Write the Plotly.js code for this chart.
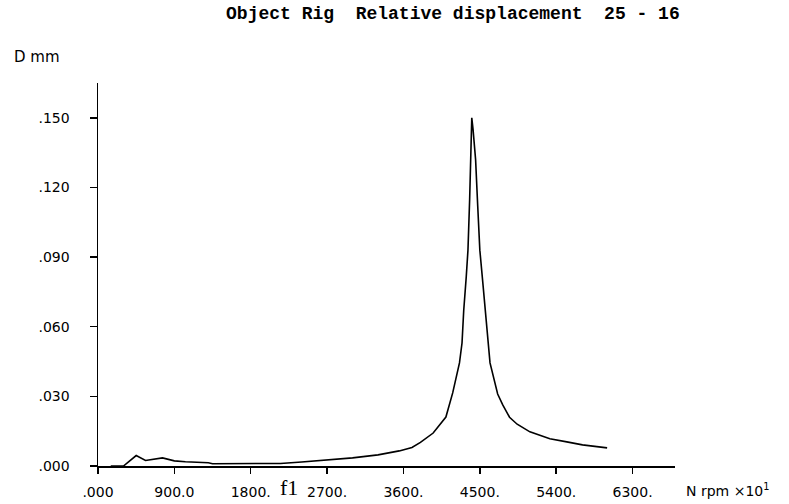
<!DOCTYPE html>
<html>
<head>
<meta charset="utf-8">
<script src="https://cdn.plot.ly/plotly-3.0.1.min.js"></script>
<style>html,body{margin:0;padding:0;background:#fff;}#chart{width:789px;height:504px;}</style>
</head>
<body>
<div id="chart"></div>
<script>
// Speed N (rpm x10)
const speed = [150, 300, 450, 560, 760, 900, 1030, 1300, 1350, 1800, 2150, 2400, 2700, 3000, 3300, 3550, 3700, 3800, 3950, 4100, 4180, 4260, 4290, 4310, 4340, 4360, 4380, 4395, 4405, 4420, 4450, 4475, 4500, 4535, 4580, 4620, 4710, 4770, 4850, 4940, 5090, 5325, 5525, 5710, 6000];
// Relative displacement D (mm)
const displacement = [0.0000, 0.0000, 0.0045, 0.0024, 0.0035, 0.0022, 0.0018, 0.0014, 0.0010, 0.0010, 0.0011, 0.0017, 0.0025, 0.0035, 0.0048, 0.0065, 0.0080, 0.0102, 0.0142, 0.0211, 0.0315, 0.0444, 0.0530, 0.0670, 0.0816, 0.0930, 0.1150, 0.1350, 0.1500, 0.1450, 0.1320, 0.1120, 0.0930, 0.0790, 0.0600, 0.0444, 0.0310, 0.0263, 0.0210, 0.0180, 0.0147, 0.0117, 0.0104, 0.0091, 0.0078];

const xTickVals = [0, 900, 1800, 2700, 3600, 4500, 5400, 6300];
const xTickText = [".000", "900.0", "1800.", "2700.", "3600.", "4500.", "5400.", "6300."];
const yTickVals = [0, 0.03, 0.06, 0.09, 0.12, 0.15];
const yTickText = [".000", ".030", ".060", ".090", ".120", ".150"];

const titleText = "Object Rig\u00a0\u00a0Relative displacement\u00a0\u00a025 - 16";
const yLabel = "D mm";
const xLabel = "N rpm \u00d710<sup>1</sup>";
const markLabel = "f1";
const markPos = 2250;

const tickFont = {family: "DejaVu Sans, sans-serif", size: 14, color: "#000"};

const trace = {
  x: speed, y: displacement, type: "scatter", mode: "lines",
  line: {color: "#000", width: 1.6}, hoverinfo: "skip"
};

const layout = {
  width: 789, height: 504,
  margin: {l: 98, r: 114, t: 83, b: 38, pad: 0},
  paper_bgcolor: "#fff", plot_bgcolor: "#fff",
  showlegend: false,
  title: {text: titleText, x: 0.574, xanchor: "center", y: 0.975, yanchor: "middle",
          font: {family: "Liberation Mono, DejaVu Sans Mono, monospace", size: 18, color: "#000", weight: "bold"}},
  xaxis: {
    range: [0, 6800], showgrid: false, zeroline: false,
    showline: true, linecolor: "#000", linewidth: 1.5,
    ticks: "outside", ticklen: 6, tickwidth: 1.5, tickcolor: "#000",
    tickvals: xTickVals, ticktext: xTickText, tickfont: tickFont,
    ticklabelstandoff: 7
  },
  yaxis: {
    range: [0, 0.165], showgrid: false, zeroline: false,
    showline: true, linecolor: "#000", linewidth: 1.5,
    ticks: "outside", ticklen: 7, tickwidth: 1.5, tickcolor: "#000",
    tickvals: yTickVals, ticktext: yTickText, tickfont: tickFont,
    ticklabelstandoff: 17
  },
  annotations: [
    {text: yLabel, xref: "paper", yref: "paper", x: -0.149, y: 1.068, xanchor: "left", yanchor: "middle",
     showarrow: false, font: {family: "DejaVu Sans, sans-serif", size: 15, color: "#000"}},
    {text: xLabel, xref: "paper", yref: "paper", x: 1.015, y: -0.063, xanchor: "left", yanchor: "middle",
     showarrow: false, font: {family: "DejaVu Sans, sans-serif", size: 14, color: "#000"}},
    {text: markLabel, xref: "x", yref: "paper", x: markPos, y: -0.055, xanchor: "center", yanchor: "middle",
     showarrow: false, font: {family: "Liberation Serif, serif", size: 22, color: "#000"}}
  ]
};

Plotly.newPlot("chart", [trace], layout, {staticPlot: true, displayModeBar: false});
</script>
</body>
</html>
